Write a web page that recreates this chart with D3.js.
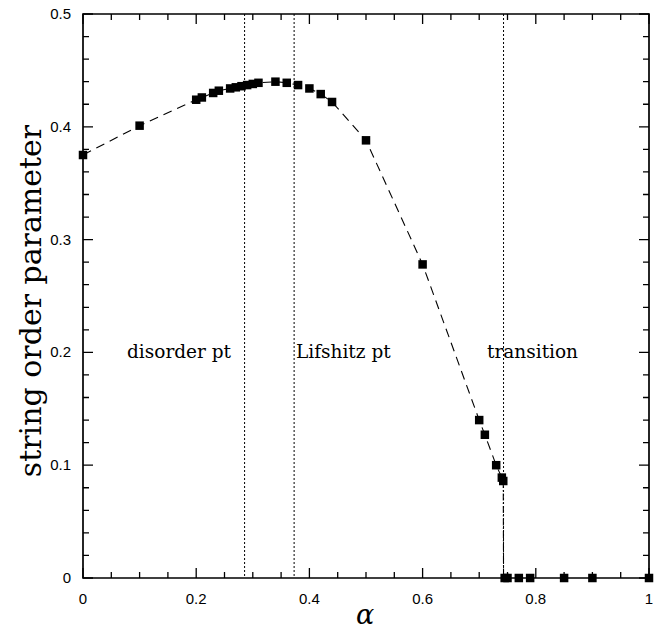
<!DOCTYPE html>
<html>
<head>
<meta charset="utf-8">
<script src="https://cdnjs.cloudflare.com/ajax/libs/d3/7.8.5/d3.min.js"></script>
<style>
  body { margin: 0; background: #fff; }
  svg { display: block; }
  .tick-label { font-family: "Liberation Sans", Arial, sans-serif; font-size: 15px; fill: #000; }
  .note { font-family: "DejaVu Serif", serif; font-size: 18.5px; fill: #000; }
  .title { font-family: "DejaVu Serif", serif; fill: #000; }
</style>
</head>
<body>
<svg id="chart" width="662" height="634"></svg>
<script>
// string order parameter vs alpha
const alpha_values = [0, 0.1, 0.2, 0.21, 0.23, 0.24, 0.26, 0.27, 0.28, 0.29, 0.30, 0.31,
                      0.34, 0.36, 0.38, 0.40, 0.42, 0.44, 0.50, 0.60, 0.70, 0.71, 0.73, 0.74, 0.7425];
const order_values = [0.375, 0.401, 0.424, 0.426, 0.430, 0.432, 0.434, 0.435, 0.436, 0.437, 0.438, 0.439,
                      0.440, 0.439, 0.437, 0.434, 0.429, 0.422, 0.388, 0.278, 0.140, 0.127, 0.100, 0.089, 0.086];
const zero_alpha = [0.745, 0.75, 0.77, 0.79, 0.85, 0.9, 1.0];
const drop_alpha = [0.7425, 0.743];
const drop_values = [0.086, 0];
const marker_alpha = [0.2855, 0.373, 0.743];
const marker_labels = ["disorder pt", "Lifshitz pt", "transition"];
const x_ticks = [0, 0.2, 0.4, 0.6, 0.8, 1];
const y_ticks = [0, 0.1, 0.2, 0.3, 0.4, 0.5];

const svg = d3.select("#chart");
const m_left = 83, m_right = 649, m_top = 14, m_bottom = 578;

const x = d3.scaleLinear().domain([0, 1]).range([m_left, m_right]);
const y = d3.scaleLinear().domain([0, 0.5]).range([m_bottom, m_top]);

const x_minor = d3.range(0, 1.0001, 0.05);
const y_minor = d3.range(0, 0.5001, 0.02);
const is_major = (v, step) => Math.abs(v / step - Math.round(v / step)) < 1e-6;

// frame
const frame = d3.path();
frame.moveTo(m_left, m_top);
frame.lineTo(m_right, m_top);
frame.lineTo(m_right, m_bottom);
frame.lineTo(m_left, m_bottom);
frame.closePath();
svg.append("path")
    .attr("d", frame.toString())
    .attr("fill", "none").attr("stroke", "#000").attr("stroke-width", 1.7);

// inward ticks on all four sides
const tick_path = d3.path();
x_minor.forEach(v => {
    const len = is_major(v, 0.2) ? 10 : 6;
    tick_path.moveTo(x(v), m_bottom); tick_path.lineTo(x(v), m_bottom - len);
    tick_path.moveTo(x(v), m_top); tick_path.lineTo(x(v), m_top + len);
});
y_minor.forEach(v => {
    const len = is_major(v, 0.1) ? 10 : 6;
    tick_path.moveTo(m_left, y(v)); tick_path.lineTo(m_left + len, y(v));
    tick_path.moveTo(m_right, y(v)); tick_path.lineTo(m_right - len, y(v));
});
svg.append("path")
    .attr("d", tick_path.toString())
    .attr("fill", "none").attr("stroke", "#000").attr("stroke-width", 1.3);

// tick labels
svg.selectAll(".xlab").data(x_ticks).enter().append("text")
    .attr("class", "tick-label")
    .attr("x", d => x(d)).attr("y", 604)
    .attr("text-anchor", "middle")
    .text(d => d === 0 ? "0" : d === 1 ? "1" : d3.format(".1f")(d));

svg.selectAll(".ylab").data(y_ticks).enter().append("text")
    .attr("class", "tick-label")
    .attr("x", 71).attr("y", d => y(d) + 5)
    .attr("text-anchor", "end")
    .text(d => d === 0 ? "0" : d3.format(".1f")(d));

// axis titles
svg.append("text")
    .attr("class", "title")
    .attr("x", 365).attr("y", 624)
    .attr("text-anchor", "middle")
    .style("font-style", "italic")
    .style("font-size", "27px")
    .text("α");

svg.append("text")
    .attr("class", "title")
    .attr("transform", "translate(41,301) rotate(-90)")
    .attr("text-anchor", "middle")
    .style("font-size", "30px")
    .text("string order parameter");

// dotted marker lines
svg.selectAll(".marker").data(marker_alpha).enter().append("line")
    .attr("x1", d => x(d)).attr("x2", d => x(d))
    .attr("y1", m_top).attr("y2", m_bottom)
    .attr("stroke", "#000").attr("stroke-width", 1)
    .attr("stroke-dasharray", "2,2");

const label_x = [127, 296, 487];
svg.selectAll(".note").data(marker_labels).enter().append("text")
    .attr("class", "note")
    .attr("x", (d, i) => label_x[i]).attr("y", 358)
    .text(d => d);

// curve
const points = alpha_values.map((a, i) => [a, order_values[i]]);
const line = d3.line().x(d => x(d[0])).y(d => y(d[1]));

svg.append("path")
    .datum(points)
    .attr("d", line)
    .attr("fill", "none").attr("stroke", "#000").attr("stroke-width", 1.1)
    .attr("stroke-dasharray", "9,6");

svg.append("path")
    .datum(drop_alpha.map((a, i) => [a, drop_values[i]]))
    .attr("d", line)
    .attr("fill", "none").attr("stroke", "#000").attr("stroke-width", 1.1)
    .attr("stroke-dasharray", "7,2,1.5,2");

const sq = 8.5;
const all_points = points.concat(zero_alpha.map(a => [a, 0]));
svg.selectAll(".pt").data(all_points).enter().append("rect")
    .attr("x", d => x(d[0]) - sq / 2)
    .attr("y", d => y(d[1]) - sq / 2)
    .attr("width", sq).attr("height", sq)
    .attr("fill", "#000");
</script>
</body>
</html>
